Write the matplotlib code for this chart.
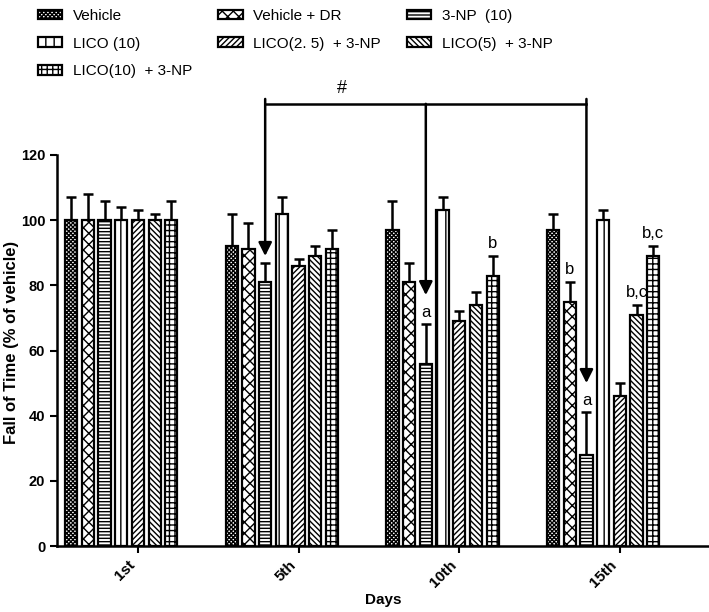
import numpy as np
import matplotlib
matplotlib.use('Agg')
import matplotlib.pyplot as plt

plt.rcParams['font.family'] = ['Liberation Sans', 'DejaVu Sans']
plt.rcParams['hatch.linewidth'] = 1.0

# Data (mean and upper SEM, % of vehicle)
days = ['1st', '5th', '10th', '15th']
groups = ['Vehicle', 'Vehicle + DR', '3-NP  (10)', 'LICO (10)',
          'LICO(2. 5)  + 3-NP', 'LICO(5)  + 3-NP', 'LICO(10)  + 3-NP']
means = {
    'Vehicle':            [100, 92, 97, 97],
    'Vehicle + DR':       [100, 91, 81, 75],
    '3-NP  (10)':         [100, 81, 56, 28],
    'LICO (10)':          [100, 102, 103, 100],
    'LICO(2. 5)  + 3-NP': [100, 86, 69, 46],
    'LICO(5)  + 3-NP':    [100, 89, 74, 71],
    'LICO(10)  + 3-NP':   [100, 91, 83, 89],
}
sems = {
    'Vehicle':            [7, 10, 9, 5],
    'Vehicle + DR':       [8, 8, 6, 6],
    '3-NP  (10)':         [6, 6, 12, 13],
    'LICO (10)':          [4, 5, 4, 3],
    'LICO(2. 5)  + 3-NP': [3, 2, 3, 4],
    'LICO(5)  + 3-NP':    [2, 3, 4, 3],
    'LICO(10)  + 3-NP':   [6, 6, 6, 3],
}
hatches = ['xxxxxxxx', 'xxx', '-----', '||', '//////', '\\\\\\\\\\\\', '+++']

# significance letters: (group, day index, text)
letters = [('3-NP  (10)', 2, 'a'), ('LICO(10)  + 3-NP', 2, 'b'),
           ('Vehicle + DR', 3, 'b'), ('3-NP  (10)', 3, 'a'),
           ('LICO(5)  + 3-NP', 3, 'b,c'), ('LICO(10)  + 3-NP', 3, 'b,c')]

fig = plt.figure(figsize=(7.09, 6.12), dpi=100)
ax = fig.add_axes([57/709, 66/612, 652/709, 391/612])

x = np.arange(len(days))
step = 0.104
width = 0.076
handles = {}
for j, g in enumerate(groups):
    pos = x + (j - 4) * step
    b = ax.bar(pos, means[g], width, color='white', edgecolor='black',
               linewidth=1.6, hatch=hatches[j], zorder=3, label=g)
    ax.errorbar(pos, means[g], yerr=[np.zeros(len(days)), sems[g]], fmt='none',
                ecolor='black', elinewidth=1.8, capsize=3.5, capthick=1.8, zorder=2)
    handles[g] = b

for g, d, t in letters:
    j = groups.index(g)
    xp = x[d] + (j - 4) * step
    ax.text(xp, means[g][d] + sems[g][d] + 1.5, t, ha='center', va='bottom', fontsize=12)

# bracket with arrows pointing at 3-NP bars
j3 = groups.index('3-NP  (10)')
ax_pts = [x[k] + (j3 - 4) * step for k in (1, 2, 3)]
top = 135.7
ax.plot([ax_pts[0], ax_pts[-1]], [top, top], color='black', lw=1.8, clip_on=False)
for k, xp in zip((1, 2, 3), ax_pts):
    tip = means['3-NP  (10)'][k] + sems['3-NP  (10)'][k] + (2 if k == 1 else 9)
    ax.annotate('', xy=(xp, tip), xytext=(xp, top + (1.5 if k != 2 else 0)),
                arrowprops=dict(arrowstyle='-|>', lw=1.8, color='black',
                                mutation_scale=20, shrinkA=0, shrinkB=0),
                annotation_clip=False)
ax.text(np.mean(ax_pts[:2]) - 0.02, top + 2.0, '#', ha='center', va='bottom', fontsize=13)

ax.set_xlim(-0.504, 3.555)
ax.set_ylim(0, 120)
ax.set_yticks(range(0, 121, 20))
ax.set_xticks(x)
ax.set_xticklabels(days, rotation=45, ha='right', va='top', fontweight='bold', fontsize=11)
for lab in ax.get_yticklabels():
    lab.set_fontweight('bold')
    lab.set_fontsize(10.5)
ax.spines['top'].set_visible(False)
ax.spines['right'].set_visible(False)
ax.spines['left'].set_linewidth(1.8)
ax.spines['bottom'].set_linewidth(1.8)
ax.tick_params(width=1.5, length=5)
ax.set_ylabel('Fall of Time (% of vehicle)', fontweight='bold', fontsize=12)
ax.yaxis.set_label_coords(-0.058, 0.52)
ax.set_xlabel('Days', fontweight='bold', fontsize=11, labelpad=2)

order = ['Vehicle', 'LICO (10)', 'LICO(10)  + 3-NP', 'Vehicle + DR',
         'LICO(2. 5)  + 3-NP', '3-NP  (10)', 'LICO(5)  + 3-NP']
fig.legend([handles[g] for g in order], order, ncol=3, loc='upper left',
           bbox_to_anchor=(24/709, 1.008), frameon=False, fontsize=11,
           handlelength=1.6, handleheight=0.6, labelspacing=0.9,
           columnspacing=1.7, handletextpad=0.7)

fig.savefig('out.png', dpi=100)
